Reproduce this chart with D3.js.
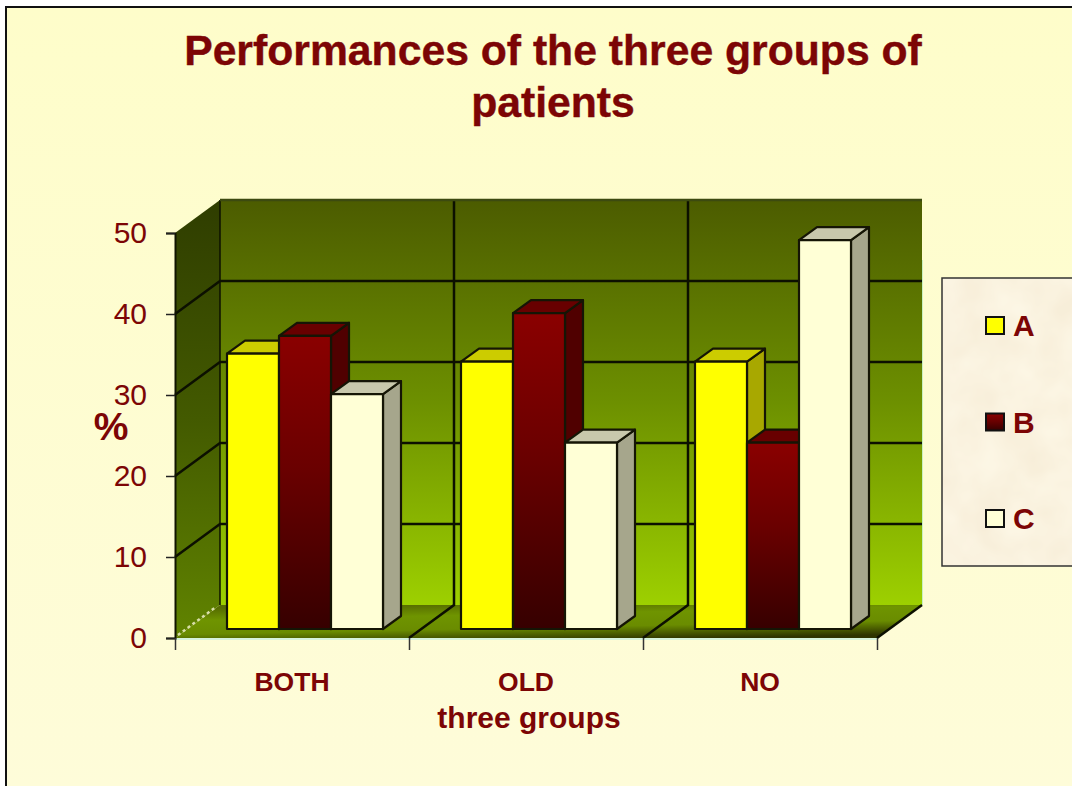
<!DOCTYPE html>
<html>
<head>
<meta charset="utf-8">
<script src="https://cdnjs.cloudflare.com/ajax/libs/d3/7.8.5/d3.min.js"></script>
<style>
  html, body { margin: 0; padding: 0; background: #fff; }
  svg { display: block; }
  text { font-family: "Liberation Sans", Arial, sans-serif; fill: #7c0505; }
</style>
</head>
<body>
<svg id="chart" width="1072" height="786"></svg>
<script>
const categories = ['BOTH', 'OLD', 'NO']
const seriesNames = ['A', 'B', 'C']
const valuesA = [34, 33, 33]
const valuesB = [36.2, 39, 23]
const valuesC = [29, 23, 48]
const yTicks = [0, 10, 20, 30, 40, 50]

const seriesValues = {A: valuesA, B: valuesB, C: valuesC}
const darkRed = '#7c0505'

const svg = d3.select('#chart')
const defs = svg.append('defs')

const addGradient = (id, stops, x2 = 0, y2 = 1, x1 = 0, y1 = 0) => {
  const g = defs.append('linearGradient').attr('id', id)
    .attr('x1', x1).attr('y1', y1).attr('x2', x2).attr('y2', y2)
  stops.forEach(([o, c]) => g.append('stop').attr('offset', o).attr('stop-color', c))
}
addGradient('page', [[0, '#fefdca'], [1, '#fefcd9']])
addGradient('backWall', [[0, '#4c5c00'], [0.5, '#6d9000'], [1, '#9dd000']])
addGradient('sideWall', [[0, '#2f3d00'], [0.5, '#435a00'], [1, '#618400']])
addGradient('floor', [[0, '#566c00'], [0.3, '#6f9400'], [0.65, '#6a8c00'], [1, '#2e3400']], 0.72, 1, 0.28, 0)
addGradient('barB', [[0, '#8a0000'], [0.45, '#6a0000'], [1, '#360000']])

const parchment = defs.append('filter').attr('id', 'parchment')
  .attr('x', 0).attr('y', 0).attr('width', 1).attr('height', 1)
  .attr('color-interpolation-filters', 'sRGB')
parchment.append('feTurbulence').attr('type', 'fractalNoise')
  .attr('baseFrequency', 0.025).attr('numOctaves', 3).attr('seed', 4)
parchment.append('feColorMatrix').attr('values',
  '0.03 0 0 0 0.965  0.05 0 0 0 0.925  0.07 0 0 0 0.84  0 0 0 0 1')

// page
svg.append('rect').attr('x', 6).attr('y', 7).attr('width', 1066).attr('height', 779)
  .attr('fill', 'url(#page)')
svg.append('path').attr('d', 'M6,786V7H1072').attr('fill', 'none').attr('stroke', '#111').attr('stroke-width', 2)

// title
svg.append('g').attr('text-anchor', 'middle').attr('font-weight', 'bold').attr('font-size', 42.7)
  .selectAll('text')
  .data(['Performances of the three groups of', 'patients'])
  .join('text')
  .attr('x', 553)
  .attr('y', (d, i) => 65 + i * 52)
  .attr('stroke', darkRed)
  .attr('stroke-width', 0.4)
  .text(d => d)

// scales, front plane of the box
const xScale = d3.scaleBand().domain(categories).range([175, 877]).paddingInner(1 / 3).paddingOuter(1 / 6)
const xInner = d3.scaleBand().domain(seriesNames).range([0, xScale.bandwidth()])
const yScale = d3.scaleLinear().domain([0, 50]).range([638, 233])
const xEdges = d3.scaleLinear().domain([0, categories.length]).range([175, 877])
const edgeTicks = d3.range(categories.length + 1)

const depth = {x: 45, y: -33}
const barOffset = {x: 13, y: -9}
const barDepth = {x: 18, y: -13}

const x0 = xEdges(0)
const x1 = xEdges(categories.length)
const y0 = yScale(0)
const y50 = yScale(50)

const poly = pts => d3.line()(pts) + 'Z'

// walls and floor
const box = svg.append('g')
box.append('path')
  .attr('d', poly([[x0 + depth.x, y50 + depth.y], [x1 + depth.x, y50 + depth.y], [x1 + depth.x, y0 + depth.y], [x0 + depth.x, y0 + depth.y]]))
  .attr('fill', 'url(#backWall)')
box.append('path')
  .attr('d', poly([[x0, y50], [x0 + depth.x, y50 + depth.y], [x0 + depth.x, y0 + depth.y], [x0, y0]]))
  .attr('fill', 'url(#sideWall)')
box.append('path')
  .attr('d', poly([[x0, y0], [x0 + depth.x, y0 + depth.y], [x1 + depth.x, y0 + depth.y], [x1, y0]]))
  .attr('fill', 'url(#floor)')

// gridlines
const grid = svg.append('g').attr('fill', 'none').attr('stroke', '#0c1000').attr('stroke-width', 2.5)
grid.selectAll('path.h')
  .data(yTicks.filter(d => d > 0 && d < 50))
  .join('path')
  .attr('class', 'h')
  .attr('d', d => `M${x0},${yScale(d)}l${depth.x},${depth.y}H${x1 + depth.x}`)
grid.selectAll('path.v')
  .data(edgeTicks.slice(1, -1))
  .join('path')
  .attr('class', 'v')
  .attr('d', d => `M${xEdges(d)},${y0}l${depth.x},${depth.y}V${y50 + depth.y}`)
grid.append('path').attr('d', `M${x1},${y0}l${depth.x},${depth.y}`)
grid.append('path').attr('d', `M${x0 + depth.x},${y0 + depth.y}V${y50 + depth.y}`).attr('stroke-width', 1.5)
grid.append('path').attr('d', `M${x0 + depth.x},${y50 + depth.y}H${x1 + depth.x}`).attr('stroke', '#3c4a10')

// pale edges of the box
const edges = svg.append('g').attr('fill', 'none')
edges.append('path').attr('d', `M${x0},${y0 + 1}H${x1}`).attr('stroke', '#c8f0dc').attr('stroke-width', 1.5)
edges.append('path').attr('d', `M${x1 + depth.x + 0.5},${y50 + depth.y + 60}V${y0 + depth.y}`).attr('stroke', '#c8f0c0').attr('stroke-width', 1)
edges.append('path').attr('d', `M${x0 + 3},${y0 - 3}l${depth.x - 7},${depth.y + 5}`)
  .attr('stroke', '#d8dea8').attr('stroke-width', 2.5).attr('stroke-dasharray', '3 3')

// bars
const barColors = {
  A: {front: '#ffff00', side: '#a8a800', top: '#cccc00'},
  B: {front: 'url(#barB)', side: '#500000', top: '#680000'},
  C: {front: '#ffffd6', side: '#a6a68c', top: '#c8c8ac'}
}
const bars = svg.append('g').attr('stroke', '#151505').attr('stroke-width', 2.2).attr('stroke-linejoin', 'round')
categories.forEach((cat, i) => {
  seriesNames.forEach(name => {
    const left = xScale(cat) + xInner(name) + barOffset.x
    const right = left + xInner.bandwidth()
    const top = yScale(seriesValues[name][i]) + barOffset.y
    const bottom = y0 + barOffset.y
    const c = barColors[name]
    const g = bars.append('g')
    g.append('path')
      .attr('d', poly([[right, top], [right + barDepth.x, top + barDepth.y], [right + barDepth.x, bottom + barDepth.y], [right, bottom]]))
      .attr('fill', c.side)
    g.append('path')
      .attr('d', poly([[left, top], [left + barDepth.x, top + barDepth.y], [right + barDepth.x, top + barDepth.y], [right, top]]))
      .attr('fill', c.top)
    g.append('rect')
      .attr('x', left).attr('y', top)
      .attr('width', right - left).attr('height', bottom - top)
      .attr('fill', c.front)
  })
})

// y axis
const yAxis = d3.axisLeft(yScale).tickValues(yTicks).tickSize(9).tickPadding(19)
const yG = svg.append('g').attr('transform', `translate(${x0},0)`).call(yAxis)
yG.select('.domain').attr('stroke', '#101400').attr('stroke-width', 2)
yG.selectAll('line').attr('stroke', '#222').attr('stroke-width', 1.5)
yG.selectAll('text').attr('font-size', 30).attr('fill', darkRed)
  .attr('font-family', '"Liberation Sans", Arial, sans-serif').attr('dy', '0.32em')

// x axis, ticks sit on the category boundaries
const xAxis = d3.axisBottom(xEdges).tickValues(edgeTicks).tickSize(12).tickFormat('')
const xG = svg.append('g').attr('transform', `translate(0,${y0})`).call(xAxis)
xG.select('.domain').remove()
xG.selectAll('line').attr('stroke', '#333').attr('stroke-width', 1.5)

const xLabels = d3.axisBottom(xScale).tickSize(0).tickPadding(34)
const xL = svg.append('g').attr('transform', `translate(0,${y0})`).call(xLabels)
xL.select('.domain').remove()
xL.selectAll('text').attr('font-size', 26.5).attr('font-weight', 'bold').attr('fill', darkRed)
  .attr('font-family', '"Liberation Sans", Arial, sans-serif')

// axis titles
svg.append('text').attr('x', 529).attr('y', 728).attr('text-anchor', 'middle')
  .attr('font-size', 30).attr('font-weight', 'bold').text('three groups')
svg.append('text').attr('x', 111).attr('y', 440).attr('text-anchor', 'middle')
  .attr('font-size', 39).attr('font-weight', 'bold').text('%')

// legend
const legend = svg.append('g')
legend.append('rect').attr('x', 942).attr('y', 278).attr('width', 130).attr('height', 288)
  .attr('fill', '#fbf3e4').attr('filter', 'url(#parchment)')
legend.append('path').attr('d', 'M1072,278H942V566H1072').attr('fill', 'none').attr('stroke', '#333').attr('stroke-width', 1.5)

const legendY = d3.scalePoint().domain(seriesNames).range([317, 510])
const items = legend.selectAll('g').data(seriesNames).join('g')
  .attr('transform', d => `translate(986,${legendY(d)})`)
items.append('rect').attr('width', 18).attr('height', 17)
  .attr('fill', d => barColors[d].front).attr('stroke', '#111').attr('stroke-width', 2)
items.append('text').attr('x', 27).attr('y', 19)
  .attr('font-size', 30).attr('font-weight', 'bold').text(d => d)
</script>
</body>
</html>
